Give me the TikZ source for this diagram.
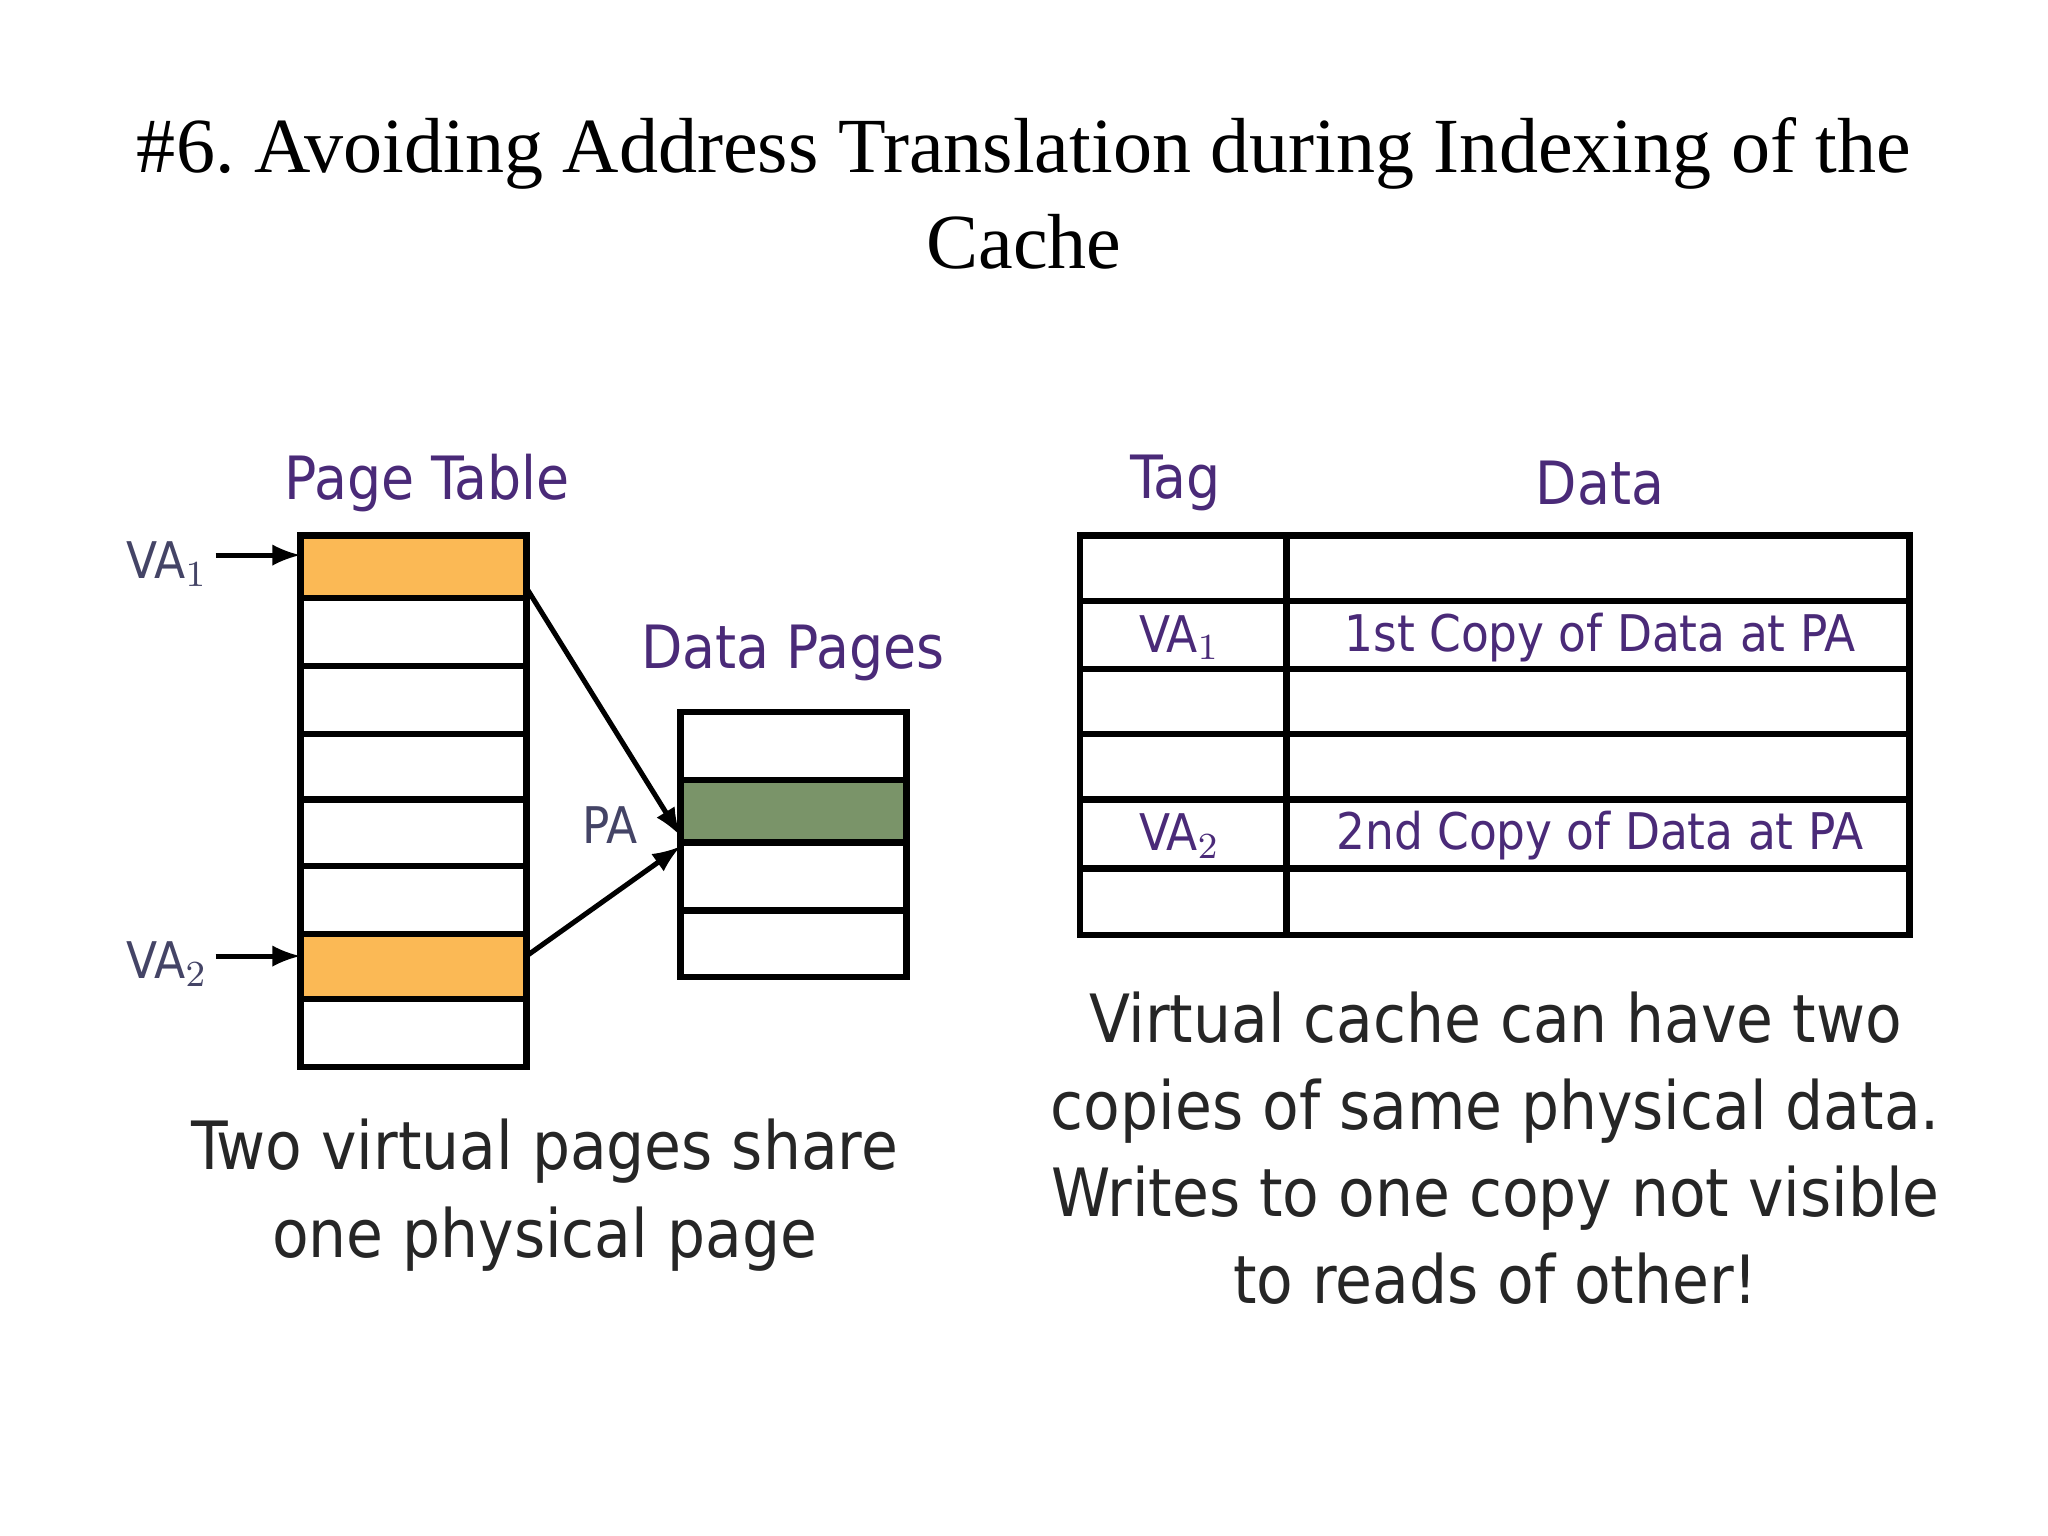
\documentclass[tikz,border=0pt]{standalone}
\usepackage{fontspec}
\setmainfont{Liberation Serif}
\newfontfamily\vf{DejaVu Sans Condensed}
\definecolor{pur}{HTML}{4A2A78}
\definecolor{org}{HTML}{FBB955}
\definecolor{grn}{HTML}{7A9469}
\definecolor{gr}{HTML}{444466}
\begin{document}
\begin{tikzpicture}[x=0.01cm,y=-0.01cm,
  cell/.style={draw=black,line width=1.4pt},
  lab/.style={font=\vf\fontsize{13}{15}\selectfont,text=pur},
  captext/.style={font=\vf\fontsize{14.5}{19}\selectfont,text=black!85,align=center},
  arr/.style={-latex,line width=1.1pt}]
\fill[white] (0,0) rectangle (1568,1176);
\node[font=\fontsize{17}{21}\selectfont,align=center] (title) at (784,148) {\#6.\ Avoiding Address Translation during Indexing of the\\Cache};
% page table
\fill[org] (230,410) rectangle (403,458);
\fill[org] (230,715) rectangle (403,765);
\foreach \a/\b in {410/458,458/510,510/562,562/612,612/663,663/715,715/765,765/817}
  \draw[cell] (230,\a) rectangle (403,\b);
\coordinate (pt1) at (403,450);
\coordinate (pt7) at (403,732);
\coordinate (pin1) at (230,425);
\coordinate (pin7) at (230,732);
\node[lab] at (327,370) {Page Table};
\node[lab,text=gr,font=\vf\fontsize{11}{13}\selectfont] (va1) at (128,432) {VA$_1$};
\node[lab,text=gr,font=\vf\fontsize{11}{13}\selectfont] (va2) at (128,738) {VA$_2$};
\draw[arr] (165,425) -- (pin1);
\draw[arr] (165,732) -- (pin7);
% data pages
\fill[grn] (521,597) rectangle (694,645);
\foreach \a/\b in {545/597,597/645,645/697,697/748}
  \draw[cell] (521,\a) rectangle (694,\b);
\coordinate (dp1) at (521,640);
\coordinate (dp2) at (521,648);
\draw[arr] (pt1) -- (dp1);
\draw[arr] (pt7) -- (dp2);
\node[lab] at (607,500) {Data Pages};
\node[lab,text=gr,font=\vf\fontsize{11}{13}\selectfont] (pa) at (467,632) {PA};
\node[captext] (c1) at (417,915) {Two virtual pages share\\one physical page};
% cache
\foreach \a/\b in {410/460,460/512,512/562,562/612,612/665,665/716}{
  \draw[cell] (827,\a) rectangle (985,\b);
  \draw[cell] (985,\a) rectangle (1462,\b);}
\node[lab] at (900,370) {Tag};
\node[lab] at (1225,370) {Data};
\node[lab,font=\vf\fontsize{11}{13}\selectfont] at (903,488) {VA$_1$};
\node[lab,font=\vf\fontsize{11}{13}\selectfont] at (1225,488) {1st Copy of Data at PA};
\node[lab,font=\vf\fontsize{11}{13}\selectfont] at (903,640) {VA$_2$};
\node[lab,font=\vf\fontsize{11}{13}\selectfont] at (1225,640) {2nd Copy of Data at PA};
\node[captext] (c2) at (1145,879) {Virtual cache can have two\\copies of same physical data.\\Writes to one copy not visible\\to reads of other!};
\end{tikzpicture}
\end{document}
